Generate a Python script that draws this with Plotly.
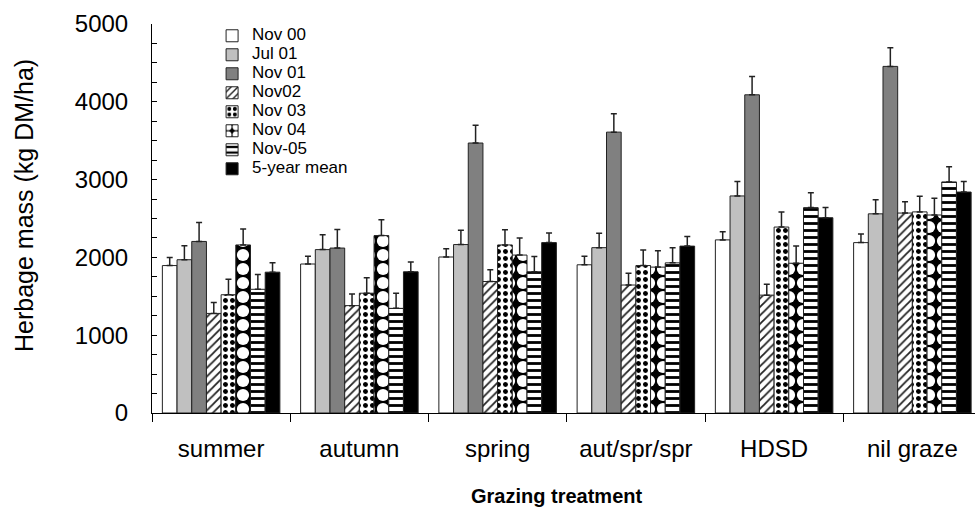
import plotly.graph_objects as go

categories = ["summer", "autumn", "spring", "aut/spr/spr", "HDSD", "nil graze"]
series_names = ["Nov 00", "Jul 01", "Nov 01", "Nov02", "Nov 03", "Nov 04", "Nov-05", "5-year mean"]

nov00 = [1895, 1915, 2005, 1905, 2225, 2190]
jul01 = [1970, 2100, 2165, 2125, 2790, 2560]
nov01 = [2205, 2120, 3470, 3610, 4090, 4455]
nov02 = [1280, 1380, 1690, 1645, 1515, 2570]
nov03 = [1520, 1540, 2160, 1895, 2390, 2585]
nov04 = [2160, 2280, 2030, 1875, 1925, 2545]
nov05 = [1590, 1345, 1815, 1930, 2640, 2970]
mean5 = [1810, 1815, 2190, 2145, 2510, 2840]

err_nov00 = [105, 100, 105, 110, 105, 110]
err_jul01 = [180, 190, 185, 185, 185, 180]
err_nov01 = [245, 240, 230, 235, 235, 240]
err_nov02 = [140, 150, 150, 150, 140, 145]
err_nov03 = [200, 200, 195, 200, 195, 200]
err_nov04 = [205, 205, 220, 210, 220, 215]
err_nov05 = [190, 195, 195, 195, 190, 195]
err_mean5 = [120, 125, 125, 125, 130, 135]

values = [nov00, jul01, nov01, nov02, nov03, nov04, nov05, mean5]
errors = [err_nov00, err_jul01, err_nov01, err_nov02, err_nov03, err_nov04, err_nov05, err_mean5]

styles = [
    dict(color="white"),
    dict(color="#c0c0c0"),
    dict(color="#808080"),
    dict(color="white", pattern=dict(shape="/", fgcolor="#222", bgcolor="white", size=6, solidity=0.3, fillmode="replace")),
    dict(color="white", pattern=dict(shape=".", fgcolor="black", bgcolor="white", size=7, solidity=0.4, fillmode="replace")),
    dict(color="black", pattern=dict(shape=".", fgcolor="white", bgcolor="black", size=14, solidity=0.6, fillmode="replace")),
    dict(color="white", pattern=dict(shape="-", fgcolor="black", bgcolor="white", size=7, solidity=0.4, fillmode="replace")),
    dict(color="black"),
]

FONT = "Arial, Liberation Sans, sans-serif"

fig = go.Figure()
for name, vals, errs, st in zip(series_names, values, errors, styles):
    marker = dict(line=dict(color="#222", width=1), **st)
    fig.add_trace(go.Bar(
        x=categories, y=vals,
        name="<span style='font-size:17px'>" + name + "</span>",
        marker=marker,
        error_y=dict(type="data", symmetric=False, array=errs, arrayminus=[0] * len(errs),
                     color="#222", thickness=1.5, width=3),
    ))

W, H = 975, 508
L, R, T, B = 152, 0, 24, 95

fig.update_layout(
    width=W, height=H,
    margin=dict(l=L, r=R, t=T, b=B),
    paper_bgcolor="white", plot_bgcolor="white",
    barmode="group", bargap=0.15, bargroupgap=0,
    font=dict(family=FONT, color="black"),
    showlegend=True,
    legend=dict(x=0.073, y=1.007, xanchor="left", yanchor="top", bgcolor="rgba(0,0,0,0)",
                font=dict(size=12, family=FONT), tracegroupgap=0, itemwidth=30),
    xaxis=dict(range=[-0.5, 5.453], showline=True, linecolor="black", linewidth=1,
               ticks="outside", tickson="boundaries", ticklen=8, tickcolor="black",
               tickfont=dict(size=24, family=FONT), showgrid=False, ticklabelstandoff=14),
    yaxis=dict(range=[0, 5000], showline=True, linecolor="black", linewidth=1,
               ticks="inside", ticklen=5, dtick=1000, tickcolor="black",
               tickfont=dict(size=24, family=FONT), showgrid=False, zeroline=False,
               ticklabelstandoff=18,
               minor=dict(dtick=250, ticks="inside", ticklen=5, tickcolor="black")),
    annotations=[
        dict(text="Herbage mass (kg DM/ha)", textangle=-90, x=24, y=206, xref="paper", yref="paper",
             showarrow=False, font=dict(size=25, family=FONT)),
        dict(text="<b>Grazing treatment</b>", x=556, y=496, xref="paper", yref="paper",
             showarrow=False, font=dict(size=20, family=FONT)),
    ],
)

# convert pixel positions of annotations to paper coordinates
pw = W - L - R
ph = H - T - B
for a in fig.layout.annotations:
    a.x = (a.x - L) / pw
    a.y = 1 - (a.y - T) / ph
    a.xanchor = "center"
    a.yanchor = "middle"

fig.write_html("out.html")
